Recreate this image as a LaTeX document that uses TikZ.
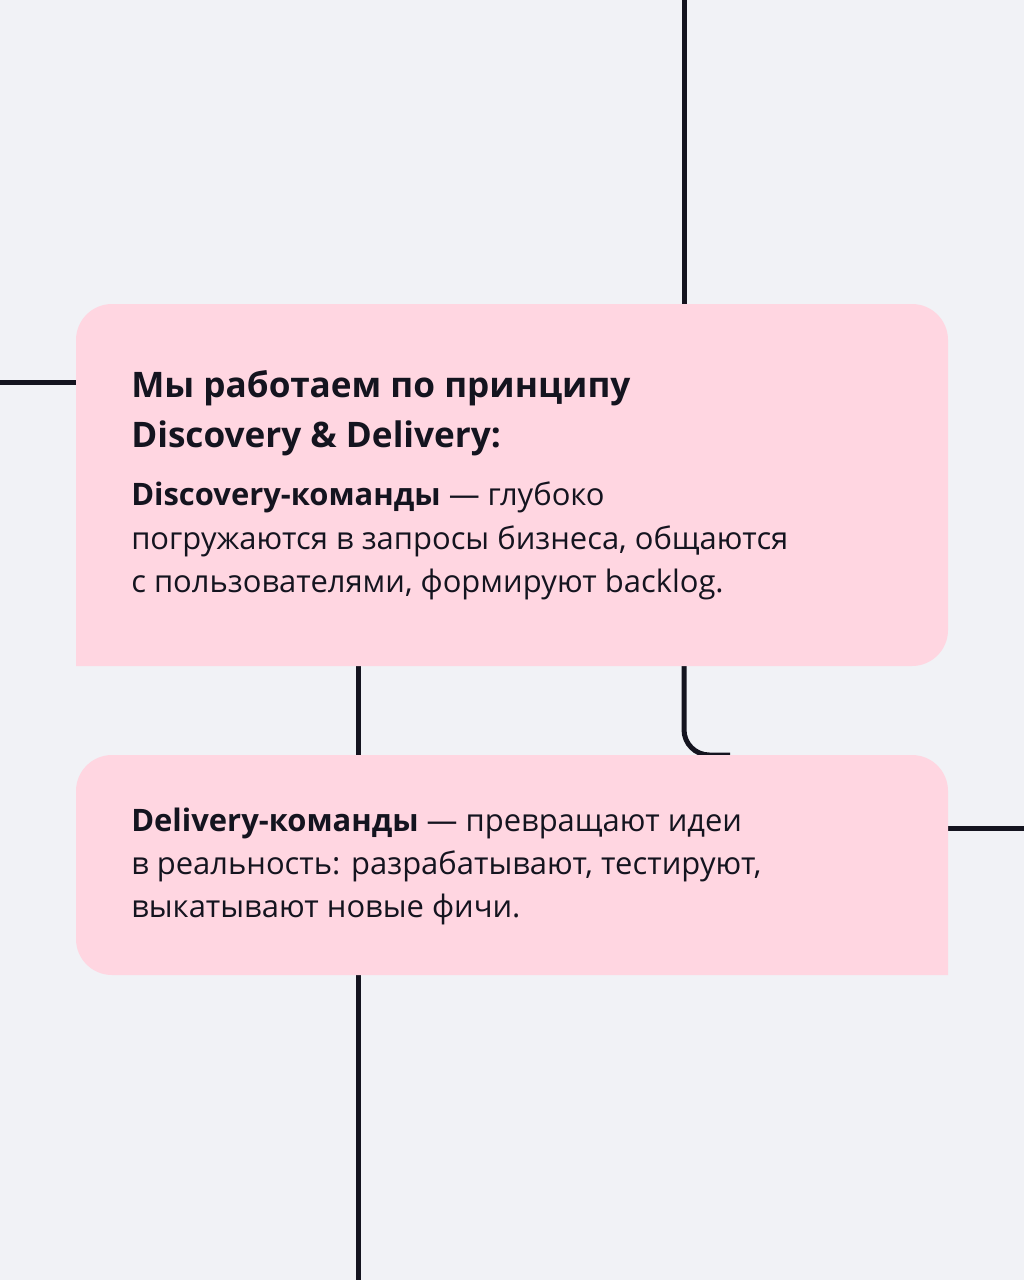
\documentclass[tikz,border=0pt]{standalone}
\usepackage{fontspec}
\setmainfont{Open Sans}
\usetikzlibrary{positioning}
\definecolor{bgcol}{HTML}{F1F2F6}
\definecolor{boxcol}{HTML}{FFD6E1}
\definecolor{inkcol}{HTML}{14141F}
\begin{document}
\begin{tikzpicture}[x=0.025cm,y=-0.025cm]

        % styles
        \tikzset{
            wire/.style={draw=inkcol, line width=5*0.7113pt},
            card/.style={fill=boxcol},
            headtxt/.style={anchor=north west, inner sep=0pt, text=inkcol,
                font=\fontsize{25}{35.6}\selectfont\bfseries, align=left},
            bodytxt/.style={anchor=north west, inner sep=0pt, text=inkcol,
                font=\fontsize{22}{30.6}\selectfont, align=left}
        }

        % background
        \fill[bgcol] (0,0) rectangle (1024,1280);
        \useasboundingbox (0,0) rectangle (1024,1280);

        % connectors behind the cards
        \coordinate (t1) at (684,0);
        \coordinate (t2) at (684,310);
        \coordinate (l1) at (0,382);
        \coordinate (l2) at (80,382);
        \coordinate (m1) at (358,660);
        \coordinate (m2) at (358,760);
        \coordinate (c1) at (684,660);
        \coordinate (c2) at (730,755);
        \coordinate (r1) at (940,828);
        \coordinate (r2) at (1024,828);
        \coordinate (b1) at (358,970);
        \coordinate (b2) at (358,1280);
        \begin{scope}[wire]
            \draw (t1) -- (t2);
            \draw (l1) -- (l2);
            \draw (m1) -- (m2);
            \draw[rounded corners=18] (c1) |- (c2);
            \draw (r1) -- (r2);
            \draw (b1) -- (b2);
        \end{scope}

        % cards
        \fill[card] (76,666) -- (76,340) arc (180:270:36) -- (912,304)
            arc (270:360:36) -- (948,630) arc (0:90:36) -- cycle;
        \fill[card] (948,975) -- (112,975) arc (90:180:36) -- (76,791)
            arc (180:270:36) -- (912,755) arc (270:360:36) -- cycle;

        % texts
        \node[headtxt] (head) at (131,370)
            {Мы работаем по принципу\\Discovery \& Delivery:};
        \node[bodytxt] (disc) at (131,482)
            {\textbf{Discovery-команды} — глубоко\\погружаются в запросы бизнеса, общаются\\с пользователями, формируют backlog.};
        \node[bodytxt] (deli) at (131,808)
            {\textbf{Delivery-команды} — превращают идеи\\в реальность: разрабатывают, тестируют,\\выкатывают новые фичи.};

\end{tikzpicture}
\end{document}
